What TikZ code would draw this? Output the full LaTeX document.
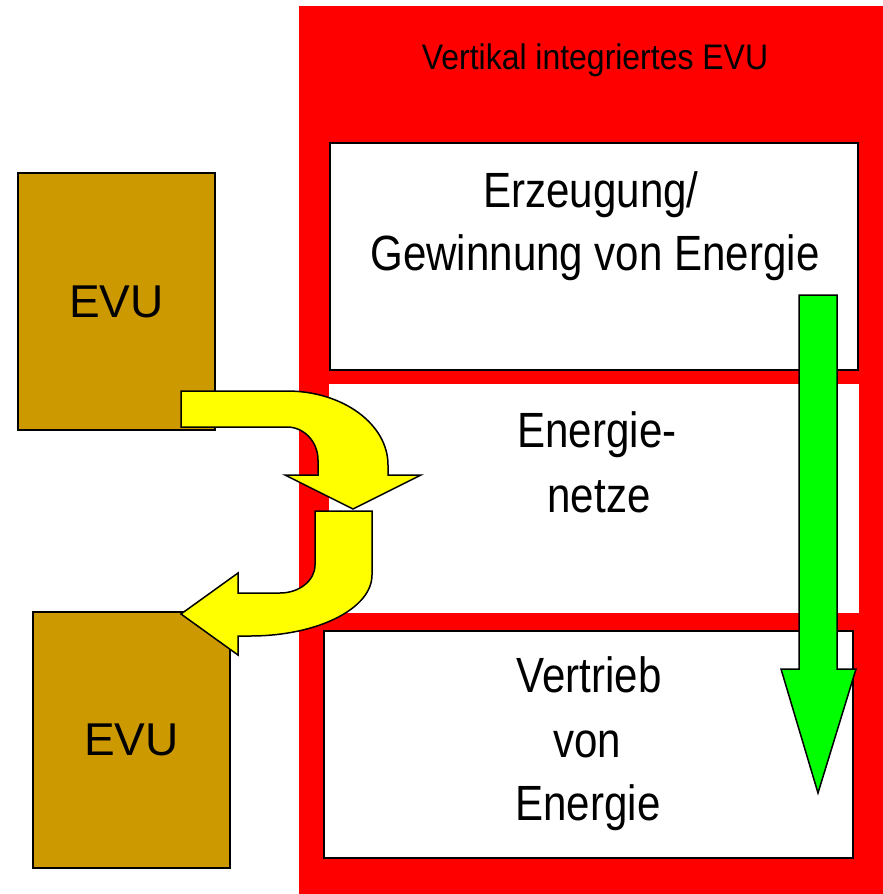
\documentclass[tikz,border=0pt]{standalone}
\usepackage{fontspec}
\setmainfont{Liberation Sans}
\newfontfamily\narrowfont[FakeStretch=0.85]{Liberation Sans}
\newfontfamily\titlefont[FakeStretch=0.9]{Liberation Sans}
\definecolor{evubrown}{HTML}{CC9900}
\definecolor{evured}{HTML}{FF0000}
\definecolor{evuyellow}{HTML}{FFFF00}
\definecolor{evugreen}{HTML}{00FF00}
\begin{document}
\begin{tikzpicture}[x=1pt,y=-1pt,
  panel/.style={inner sep=0pt,outer sep=0pt,line width=1.5pt},
  txt/.style={inner sep=0pt,anchor=base,font=\narrowfont\fontsize{49.5}{56}\selectfont},
  evutxt/.style={inner sep=0pt,font=\fontsize{46}{54}\selectfont},
  blockarrow/.style={draw=black,line width=1.5pt,line join=miter}]
\useasboundingbox (0,0) rectangle (883,894);
% red frame of the vertically integrated EVU
\node[panel,fill=evured,minimum width=584pt,minimum height=888pt] (frame) at (591,450) {};
\node[inner sep=0pt,anchor=base,font=\titlefont\fontsize{35.5}{40}\selectfont] (title) at (595,69) {Vertikal integriertes EVU};
% white boxes
\node[panel,draw=black,fill=white,minimum width=528pt,minimum height=227pt] (erz) at (594,256.5) {};
\node[panel,fill=white,minimum width=530pt,minimum height=229pt] (netz) at (594,498.5) {};
\node[panel,draw=black,fill=white,minimum width=529pt,minimum height=227pt] (vert) at (588.5,744.5) {};
\node[txt] (erzA) at (591,207) {Erzeugung/};
\node[txt] (erzB) at (595,270) {Gewinnung von Energie};
\node[txt] (netzA) at (597,447) {Energie-};
\node[txt] (netzB) at (599,512) {netze};
\node[txt] (vertA) at (589,692) {Vertrieb};
\node[txt] (vertB) at (587,757) {von};
\node[txt] (vertC) at (588,820) {Energie};
% brown EVU boxes
\node[panel,draw=black,fill=evubrown,minimum width=197pt,minimum height=257pt] (evu1) at (116.5,301.5) {};
\node[evutxt] (evu1t) at (evu1) {EVU};
\node[panel,draw=black,fill=evubrown,minimum width=197pt,minimum height=256pt] (evu2) at (131.5,740) {};
\node[evutxt] (evu2t) at (evu2) {EVU};
% yellow bent arrows
\draw[blockarrow,fill=evuyellow] (181,391) -- (287,391)
  .. controls (342.8,391) and (388,424.1) .. (388,465) -- (388,475)
  -- (421,475) -- (353,509) -- (285,475) -- (318,475) -- (318,460)
  .. controls (318,441.8) and (304.1,427) .. (287,427) -- (181,427) -- cycle;
\draw[blockarrow,fill=evuyellow] (315,511) -- (372,511) -- (372,575)
  .. controls (372,608.7) and (317.4,636) .. (250,636) -- (238,636)
  -- (238,655) -- (181,614) -- (238,573) -- (238,593) -- (280,593)
  .. controls (299.3,593) and (315,580.5) .. (315,565) -- cycle;
% green arrow
\draw[blockarrow,fill=evugreen] (799,295) -- (837,295) -- (837,669) -- (856,669)
  -- (818,793) -- (781,669) -- (799,669) -- cycle;
\end{tikzpicture}
\end{document}
